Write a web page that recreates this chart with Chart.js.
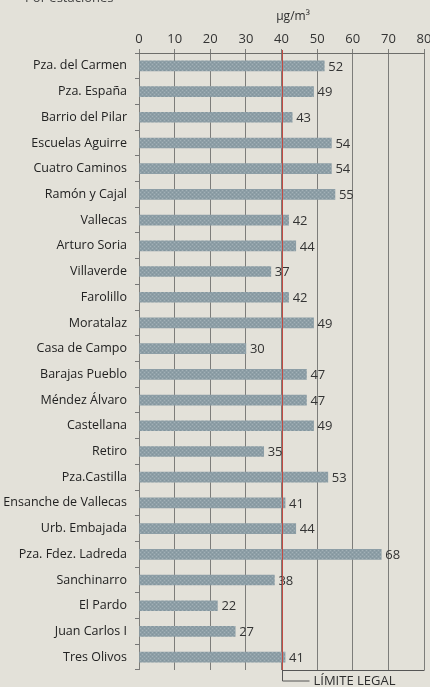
<!DOCTYPE html>
<html>
<head>
<meta charset="utf-8">
<script src="https://cdn.jsdelivr.net/npm/chart.js@4.4.1/dist/chart.umd.min.js"></script>
<style>
  html, body { margin: 0; padding: 0; background: #e3e1d9; }
  #wrap { width: 430px; height: 687px; position: relative; }
</style>
</head>
<body>
<div id="wrap"><canvas id="ItemC" width="430" height="687"></canvas></div>
<script>
var stations = ["Pza. del Carmen", "Pza. España", "Barrio del Pilar", "Escuelas Aguirre",
    "Cuatro Caminos", "Ramón y Cajal", "Vallecas", "Arturo Soria", "Villaverde", "Farolillo",
    "Moratalaz", "Casa de Campo", "Barajas Pueblo", "Méndez Álvaro", "Castellana", "Retiro",
    "Pza.Castilla", "Ensanche de Vallecas", "Urb. Embajada", "Pza. Fdez. Ladreda",
    "Sanchinarro", "El Pardo", "Juan Carlos I", "Tres Olivos"];
var no2 = [52, 49, 43, 54, 54, 55, 42, 44, 37, 42, 49, 30, 47, 47, 49, 35, 53, 41, 44, 68, 38, 22, 27, 41];
var xTicks = [0, 10, 20, 30, 40, 50, 60, 70, 80];
var legalLimit = 40;
var unitLabel = "µg/m³";
var limitLabel = "LÍMITE LEGAL";
var subtitle = "Por estaciones";

var FONT = "'Open Sans', 'Noto Sans', sans-serif";

// dotted texture for the bars
function barPattern() {
    var c = document.createElement("canvas");
    c.width = 4; c.height = 4;
    var p = c.getContext("2d");
    p.fillStyle = "#8d9ea6";
    p.fillRect(0, 0, 4, 4);
    p.fillStyle = "#a2b1b7";
    p.fillRect(0, 0, 1, 1); p.fillRect(2, 2, 1, 1);
    p.fillStyle = "#82959d";
    p.fillRect(2, 0, 1, 1); p.fillRect(0, 2, 1, 1);
    return p.createPattern(c, "repeat");
}

var viewport = document.getElementById("ItemC");
var ctx = viewport.getContext("2d");

var paper = {
    id: "paper",
    beforeDraw: function(chart) {
        var c = chart.ctx;
        c.save();
        c.fillStyle = "#e3e1d9";
        c.fillRect(0, 0, chart.width, chart.height);
        c.restore();
    }
};

var extras = {
    id: "extras",
    afterDatasetsDraw: function(chart) {
        var c = chart.ctx, x = chart.scales.x, area = chart.chartArea;
        var meta = chart.getDatasetMeta(0);
        c.save();
        // value labels
        c.font = "13px " + FONT;
        c.fillStyle = "#333";
        c.textBaseline = "middle";
        c.textAlign = "left";
        meta.data.forEach(function(bar, i) {
            c.fillText(no2[i], bar.x + 4, bar.y + 1);
        });
        // legal limit line
        var lx = Math.round(x.getPixelForValue(legalLimit)) + 0.5;
        c.strokeStyle = "#c24a42";
        c.lineWidth = 1;
        c.beginPath();
        c.moveTo(lx, area.top - 3);
        c.lineTo(lx, area.bottom);
        c.stroke();
        c.strokeStyle = "#555";
        c.beginPath();
        c.moveTo(lx, area.bottom);
        c.lineTo(lx, area.bottom + 11);
        c.lineTo(lx + 27, area.bottom + 11);
        c.stroke();
        // bottom line from limit to end
        c.beginPath();
        c.moveTo(lx, area.bottom + 0.5);
        c.lineTo(Math.round(x.getPixelForValue(80)) + 0.5, area.bottom + 0.5);
        c.stroke();
        c.fillStyle = "#2e2e2e";
        c.font = "13px " + FONT;
        c.fillText(limitLabel, lx + 31, area.bottom + 11);
        // unit and subtitle
        c.font = "12px " + FONT;
        c.textAlign = "center";
        c.fillText(unitLabel, 293, 17);
        c.textAlign = "left";
        c.font = "13px " + FONT;
        c.fillStyle = "#444";
        c.fillText(subtitle, 25, -2);
        c.restore();
    }
};

var chartData = {
    type: "bar",
    data: {
        labels: stations,
        datasets: [{
            data: no2,
            backgroundColor: barPattern(),
            borderWidth: 0,
            barThickness: 10
        }]
    },
    options: {
        indexAxis: "y",
        responsive: false,
        animation: false,
        layout: { padding: { top: 20, right: 6, bottom: 17, left: 0 } },
        plugins: { legend: { display: false }, tooltip: { enabled: false } },
        scales: {
            x: {
                position: "top",
                min: 0,
                max: 80,
                afterBuildTicks: function(s) { s.ticks = xTicks.map(function(v) { return { value: v }; }); },
                afterFit: function(s) { s.height = 33; s.paddingRight = 0; s.paddingLeft = 0; },
                ticks: { color: "#333", font: { family: FONT, size: 13 }, padding: 2 },
                grid: { color: "#7d7d7a", lineWidth: 1, tickLength: 4 },
                border: { color: "#6d6d6a" }
            },
            y: {
                afterFit: function(s) { s.width = 139; },
                ticks: { color: "#222", font: { family: FONT, size: 12.5 }, padding: 8 },
                grid: { drawOnChartArea: false, offset: true, color: "#777", tickLength: 4 },
                border: { display: false }
            }
        }
    },
    plugins: [paper, extras]
};

var myChart = new Chart(ctx, chartData);
</script>
</body>
</html>
